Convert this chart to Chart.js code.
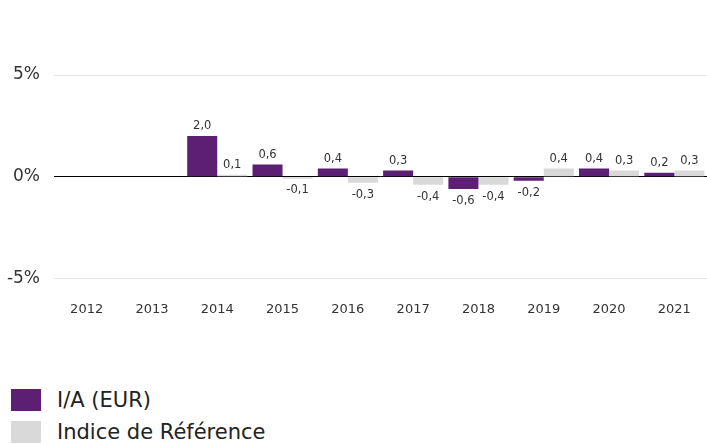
<!DOCTYPE html>
<html>
<head>
<meta charset="utf-8">
<script src="https://cdn.jsdelivr.net/npm/chart.js@4"></script>
<style>
    body { margin: 0; background: #fff; font-family: "DejaVu Sans", Verdana, sans-serif; }
    #wrap { position: relative; width: 707px; height: 444px; overflow: hidden; }
    #chart-box { position: absolute; left: 0; top: 0; width: 707px; height: 332px; }
    .legend { position: absolute; left: 11px; font-size: 21px; color: #222; }
    .legend span.box { display: inline-block; width: 30px; height: 22px; vertical-align: middle; margin-right: 16px; }
    .legend span.txt { vertical-align: middle; }
</style>
</head>
<body>
<div id="wrap">
    <div id="chart-box"><canvas id="bar-plot"></canvas></div>
    <div class="legend" style="top:387px"><span class="box" style="background:#5c1f74"></span><span class="txt">I/A (EUR)</span></div>
    <div class="legend" style="top:419px"><span class="box" style="background:#d9d9d9"></span><span class="txt">Indice de Référence</span></div>
</div>
<script>
// години и стойности (в %)
const years = ['2012', '2013', '2014', '2015', '2016', '2017', '2018', '2019', '2020', '2021'];
const fundValues = [null, null, 2.0, 0.6, 0.4, 0.3, -0.6, -0.2, 0.4, 0.2];
const benchValues = [null, null, 0.1, -0.1, -0.3, -0.4, -0.4, 0.4, 0.3, 0.3];
const yTicks = [-5, 0, 5];

const fundColor = '#5c1f74';
const benchColor = '#d9d9d9';

// надписи над/под колоните
const valueLabels = {
    id: 'valueLabels',
    afterDatasetsDraw(chart) {
        const ctx = chart.ctx;
        ctx.save();
        ctx.font = '11.5px "DejaVu Sans", Verdana, sans-serif';
        ctx.fillStyle = '#333';
        ctx.textAlign = 'center';
        chart.data.datasets.forEach((ds, i) => {
            const meta = chart.getDatasetMeta(i);
            meta.data.forEach((el, j) => {
                const v = ds.data[j];
                if (v === null || v === undefined) return;
                const txt = v.toFixed(1).replace('.', ',');
                if (v >= 0) {
                    ctx.textBaseline = 'bottom';
                    ctx.fillText(txt, el.x, el.y - 4);
                } else {
                    ctx.textBaseline = 'top';
                    ctx.fillText(txt, el.x, el.y + 6);
                }
            });
        });
        ctx.restore();
    }
};

const canvas = document.getElementById('bar-plot');
new Chart(canvas, {
    type: 'bar',
    data: {
        labels: years,
        datasets: [{
            label: 'I/A (EUR)',
            data: fundValues,
            backgroundColor: fundColor,
            borderWidth: 0
        }, {
            label: 'Indice de Référence',
            data: benchValues,
            backgroundColor: benchColor,
            borderWidth: 0
        }]
    },
    options: {
        responsive: true,
        maintainAspectRatio: false,
        animation: false,
        datasets: {
            bar: { categoryPercentage: 0.92, barPercentage: 1.0 }
        },
        layout: { padding: { top: 75, right: 0, left: 0, bottom: 0 } },
        scales: {
            x: {
                grid: { display: false },
                border: { display: false },
                ticks: {
                    color: '#333',
                    padding: 15,
                    font: { family: '"DejaVu Sans", Verdana, sans-serif', size: 13 }
                }
            },
            y: {
                min: -5,
                max: 5,
                afterBuildTicks: (scale) => { scale.ticks = yTicks.map(v => ({ value: v })); },
                afterFit: (scale) => { scale.width = 54; },
                border: { display: false },
                grid: {
                    drawTicks: false,
                    color: (c) => c.tick && c.tick.value === 0 ? '#000' : '#e6e6e6',
                    lineWidth: 1
                },
                ticks: {
                    color: '#333',
                    padding: 14,
                    font: { family: '"DejaVu Sans", Verdana, sans-serif', size: 17 },
                    callback: (v) => v + '%'
                }
            }
        },
        plugins: {
            legend: { display: false },
            tooltip: { enabled: false }
        }
    },
    plugins: [valueLabels]
});
</script>
</body>
</html>
